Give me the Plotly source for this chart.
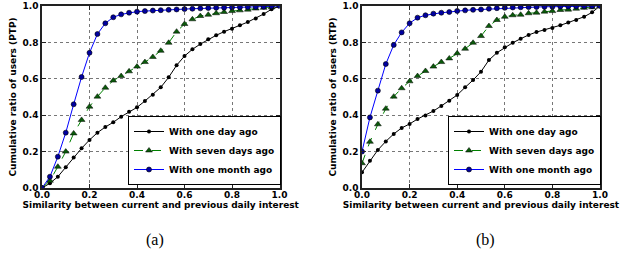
import plotly.graph_objects as go

# ---- data ----
similarity = [0.0, 0.0333, 0.0667, 0.1, 0.1333, 0.1667, 0.2, 0.2333, 0.2667, 0.3,
              0.3333, 0.3667, 0.4, 0.4333, 0.4667, 0.5, 0.5333, 0.5667, 0.6, 0.6333,
              0.6667, 0.7, 0.7333, 0.7667, 0.8, 0.8333, 0.8667, 0.9, 0.9333, 0.9667, 1.0]

series_names = ["With one day ago", "With seven days ago", "With one month ago"]

ptp_day = [0, 0.026, 0.062, 0.114, 0.167, 0.218, 0.264, 0.304, 0.335, 0.361, 0.392,
           0.419, 0.443, 0.478, 0.513, 0.553, 0.608, 0.674, 0.725, 0.762, 0.791,
           0.817, 0.839, 0.859, 0.875, 0.894, 0.912, 0.932, 0.956, 0.982, 1.0]
ptp_week = [0, 0.04, 0.117, 0.2, 0.3, 0.374, 0.447, 0.502, 0.551, 0.59, 0.615,
            0.641, 0.667, 0.692, 0.72, 0.754, 0.798, 0.859, 0.901, 0.927, 0.945,
            0.952, 0.96, 0.967, 0.972, 0.976, 0.98, 0.986, 0.99, 0.993, 1.0]
ptp_month = [0, 0.062, 0.172, 0.304, 0.46, 0.61, 0.743, 0.846, 0.905, 0.938, 0.954,
             0.963, 0.969, 0.972, 0.975, 0.977, 0.979, 0.981, 0.983, 0.985, 0.987,
             0.989, 0.99, 0.991, 0.992, 0.993, 0.994, 0.995, 0.996, 0.998, 1.0]

rtp_day = [0.086, 0.15, 0.209, 0.256, 0.297, 0.33, 0.352, 0.379, 0.399, 0.423, 0.451,
           0.48, 0.511, 0.553, 0.593, 0.639, 0.703, 0.743, 0.773, 0.798, 0.82,
           0.841, 0.857, 0.868, 0.879, 0.894, 0.909, 0.923, 0.941, 0.965, 1.0]
rtp_week = [0.136, 0.254, 0.35, 0.436, 0.502, 0.548, 0.586, 0.615, 0.643, 0.667, 0.692,
            0.712, 0.74, 0.765, 0.798, 0.835, 0.89, 0.923, 0.941, 0.949, 0.952,
            0.96, 0.963, 0.969, 0.972, 0.978, 0.98, 0.985, 0.99, 0.993, 1.0]
rtp_month = [0.2, 0.388, 0.535, 0.681, 0.786, 0.855, 0.905, 0.936, 0.949, 0.958, 0.963,
             0.967, 0.973, 0.976, 0.979, 0.981, 0.985, 0.988, 0.99, 0.992, 0.993,
             0.994, 0.995, 0.996, 0.996, 0.997, 0.997, 0.998, 0.998, 0.999, 1.0]

tick_vals = [0.0, 0.2, 0.4, 0.6, 0.8, 1.0]
tick_text = ["0.0", "0.2", "0.4", "0.6", "0.8", "1.0"]
x_title = "Similarity between current and previous daily interest"
y_titles = ["Cumulative ratio of users (PTP)", "Cumulative ratio of users (RTP)"]
captions = ["(a)", "(b)"]

# ---- styles ----
W, H = 628, 255
FONT = "DejaVu Sans"
styles = [
    dict(line=dict(color="black", width=1),
         marker=dict(symbol="circle", size=4, color="black")),
    dict(line=dict(color="#008000", width=1, dash="dash"),
         marker=dict(symbol="triangle-up", size=6, color="#0a5a0a",
                     line=dict(color="black", width=0.5))),
    dict(line=dict(color="#0000ff", width=1),
         marker=dict(symbol="circle", size=5, color="#0000a0",
                     line=dict(color="black", width=0.6))),
]

fig = go.Figure()

panels = [
    (ptp_day, ptp_week, ptp_month),
    (rtp_day, rtp_week, rtp_month),
]
x_px = [(42, 279.5), (362, 600)]
y_px = (6, 188)
legend_px = [(128, 185), (448, 185)]
caption_px = [155, 485]

for p, data in enumerate(panels):
    xa = "x" if p == 0 else "x2"
    ya = "y" if p == 0 else "y2"
    lg = "legend" if p == 0 else "legend2"
    for name, vals, st in zip(series_names, data, styles):
        fig.add_trace(go.Scatter(
            x=similarity, y=vals, name=name, mode="lines+markers",
            xaxis=xa, yaxis=ya, legend=lg, line=st["line"], marker=st["marker"],
        ))

axis_common = dict(
    range=[0, 1], tickvals=tick_vals, ticktext=tick_text, automargin=False,
    showgrid=True, gridcolor="#777777", griddash="dot", gridwidth=1,
    zeroline=False, showline=True, linecolor="#222222", linewidth=1.5,
    mirror="ticks", ticks="inside", ticklen=4, tickcolor="#222222",
    tickfont=dict(family=FONT, size=9, color="black", weight="bold"),
)

layout = dict(
    width=W, height=H, margin=dict(l=0, r=0, t=0, b=0, autoexpand=False),
    paper_bgcolor="white", plot_bgcolor="white",
    showlegend=True,
    font=dict(family=FONT, color="black"),
)

for p in range(2):
    sfx = "" if p == 0 else "2"
    x0, x1 = x_px[p]
    layout["xaxis" + sfx] = dict(
        axis_common,
        domain=[x0 / W, x1 / W],
        anchor="y" + sfx,
        ticklabelstandoff=-3,
        title=dict(text=x_title, standoff=0,
                   font=dict(family=FONT, size=9, weight="bold")),
    )
    layout["yaxis" + sfx] = dict(
        axis_common,
        domain=[(H - y_px[1]) / H, (H - y_px[0]) / H],
        anchor="x" + sfx,
        title=dict(text=y_titles[p], standoff=4,
                   font=dict(family=FONT, size=9, weight="bold")),
    )
    lx, ly = legend_px[p]
    layout["legend" + sfx] = dict(
        x=lx / W, y=(H - ly) / H, xanchor="left", yanchor="bottom",
        bgcolor="white", bordercolor="black", borderwidth=1,
        font=dict(family=FONT, size=9, weight="bold"),
        itemwidth=30, tracegroupgap=0,
    )

fig.update_layout(**layout)

for p in range(2):
    fig.add_annotation(
        text=captions[p], x=caption_px[p] / W, y=(H - 240) / H,
        xref="paper", yref="paper", showarrow=False,
        font=dict(family="Liberation Serif", size=16, color="black"),
        xanchor="center", yanchor="middle",
    )

fig.write_html(
    "out.html",
    config={"displayModeBar": False},
    post_script="document.body.style.margin='0';document.body.style.overflow='hidden';",
)
